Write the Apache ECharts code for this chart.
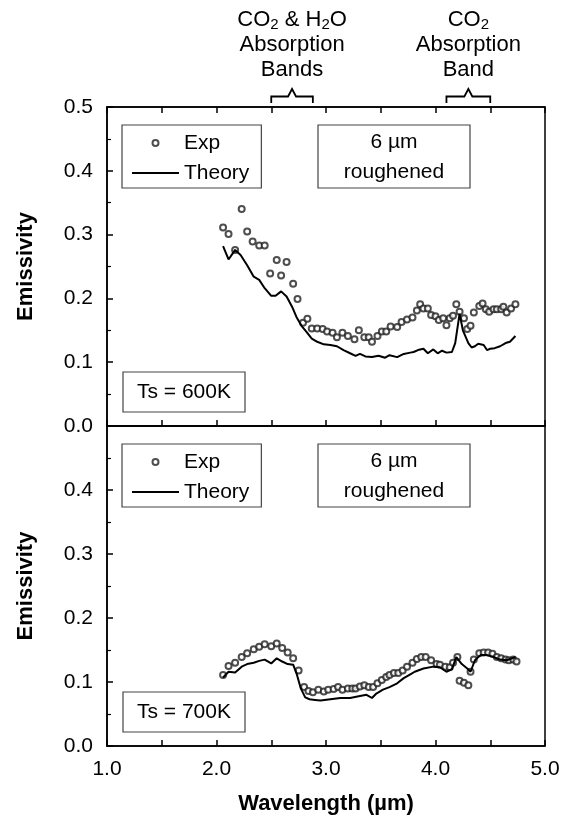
<!DOCTYPE html>
<html>
<head>
<meta charset="utf-8">
<script src="https://cdn.jsdelivr.net/npm/echarts@6/dist/echarts.min.js"></script>
<style>
  html, body { margin: 0; padding: 0; background: #fff; }
  #chart { width: 571px; height: 819px; }
</style>
</head>
<body>
<div id="chart"></div>
<script>
// wavelength (um) / emissivity
const expWl600 = [2.06, 2.11, 2.17, 2.23, 2.28, 2.33, 2.39, 2.44, 2.49, 2.55, 2.59, 2.64, 2.70, 2.74, 2.79, 2.83, 2.87, 2.92, 2.97, 3.01, 3.06, 3.10, 3.15, 3.20, 3.26, 3.30, 3.35, 3.39, 3.42, 3.47, 3.51, 3.55, 3.59, 3.65, 3.69, 3.74, 3.79, 3.83, 3.86, 3.89, 3.93, 3.96, 4.00, 4.03, 4.07, 4.10, 4.13, 4.16, 4.19, 4.22, 4.26, 4.29, 4.32, 4.35, 4.40, 4.43, 4.46, 4.49, 4.53, 4.56, 4.60, 4.62, 4.65, 4.69, 4.73]
const expEm600 = [0.311, 0.301, 0.276, 0.340, 0.305, 0.289, 0.283, 0.283, 0.239, 0.260, 0.236, 0.257, 0.223, 0.199, 0.162, 0.168, 0.153, 0.153, 0.152, 0.148, 0.146, 0.139, 0.146, 0.141, 0.136, 0.150, 0.139, 0.139, 0.132, 0.141, 0.148, 0.148, 0.156, 0.155, 0.163, 0.167, 0.170, 0.181, 0.191, 0.184, 0.184, 0.174, 0.172, 0.166, 0.169, 0.158, 0.169, 0.173, 0.191, 0.179, 0.169, 0.152, 0.157, 0.178, 0.188, 0.192, 0.183, 0.179, 0.183, 0.183, 0.183, 0.187, 0.178, 0.184, 0.191]

const thWl600 = [2.06, 2.11, 2.17, 2.22, 2.28, 2.34, 2.39, 2.44, 2.50, 2.54, 2.59, 2.64, 2.69, 2.73, 2.78, 2.82, 2.87, 2.92, 2.98, 3.04, 3.10, 3.16, 3.22, 3.27, 3.31, 3.36, 3.42, 3.48, 3.54, 3.58, 3.65, 3.71, 3.77, 3.80, 3.84, 3.89, 3.93, 3.98, 4.02, 4.06, 4.10, 4.15, 4.18, 4.22, 4.25, 4.30, 4.33, 4.36, 4.39, 4.44, 4.47, 4.50, 4.54, 4.59, 4.64, 4.68, 4.73]
const thEm600 = [0.282, 0.261, 0.276, 0.268, 0.252, 0.234, 0.229, 0.216, 0.204, 0.204, 0.211, 0.203, 0.187, 0.171, 0.156, 0.148, 0.137, 0.132, 0.128, 0.127, 0.125, 0.119, 0.114, 0.110, 0.113, 0.109, 0.108, 0.110, 0.107, 0.111, 0.108, 0.113, 0.115, 0.116, 0.119, 0.121, 0.114, 0.120, 0.114, 0.118, 0.115, 0.116, 0.130, 0.176, 0.150, 0.130, 0.123, 0.125, 0.129, 0.127, 0.119, 0.121, 0.122, 0.125, 0.130, 0.132, 0.141]

const expWl700 = [2.06, 2.11, 2.17, 2.23, 2.28, 2.34, 2.39, 2.44, 2.50, 2.55, 2.60, 2.65, 2.70, 2.75, 2.80, 2.84, 2.88, 2.93, 2.98, 3.02, 3.07, 3.11, 3.15, 3.20, 3.24, 3.27, 3.31, 3.35, 3.39, 3.43, 3.47, 3.51, 3.55, 3.58, 3.62, 3.66, 3.70, 3.74, 3.79, 3.83, 3.87, 3.91, 3.96, 4.01, 4.04, 4.09, 4.13, 4.16, 4.20, 4.22, 4.26, 4.30, 4.32, 4.35, 4.40, 4.44, 4.48, 4.52, 4.56, 4.60, 4.64, 4.67, 4.71, 4.74]
const expEm700 = [0.111, 0.125, 0.130, 0.139, 0.145, 0.151, 0.155, 0.159, 0.156, 0.160, 0.153, 0.146, 0.137, 0.118, 0.092, 0.086, 0.084, 0.088, 0.085, 0.088, 0.089, 0.092, 0.088, 0.090, 0.090, 0.090, 0.093, 0.095, 0.092, 0.092, 0.098, 0.103, 0.108, 0.111, 0.114, 0.114, 0.118, 0.124, 0.130, 0.136, 0.139, 0.139, 0.134, 0.128, 0.127, 0.124, 0.123, 0.130, 0.139, 0.102, 0.099, 0.095, 0.116, 0.135, 0.145, 0.146, 0.146, 0.144, 0.139, 0.137, 0.135, 0.134, 0.135, 0.132]

const thWl700 = [2.06, 2.11, 2.17, 2.23, 2.28, 2.34, 2.39, 2.44, 2.50, 2.55, 2.60, 2.65, 2.70, 2.73, 2.77, 2.81, 2.85, 2.90, 2.95, 3.04, 3.13, 3.22, 3.31, 3.37, 3.42, 3.46, 3.52, 3.58, 3.65, 3.71, 3.77, 3.81, 3.89, 3.98, 4.04, 4.10, 4.15, 4.19, 4.24, 4.29, 4.32, 4.36, 4.41, 4.47, 4.53, 4.59, 4.65, 4.73]
const thEm700 = [0.107, 0.116, 0.115, 0.124, 0.128, 0.130, 0.133, 0.135, 0.129, 0.137, 0.132, 0.128, 0.127, 0.114, 0.090, 0.076, 0.073, 0.072, 0.071, 0.073, 0.075, 0.075, 0.078, 0.080, 0.075, 0.082, 0.088, 0.092, 0.098, 0.106, 0.112, 0.116, 0.121, 0.124, 0.123, 0.116, 0.120, 0.139, 0.128, 0.121, 0.116, 0.134, 0.142, 0.142, 0.139, 0.135, 0.134, 0.139]

// absorption band brackets (um) and their captions
const bands = [[2.5, 2.88], [4.1, 4.5]]
const bandText = [
  '{a|CO}{s|2}{a| & H}{s|2}{a|O}\n{a|Absorption}\n{a|Bands}',
  '{a|CO}{s|2}\n{a|Absorption}\n{a|Band}'
]
const tempLabels = ['Ts = 600K', 'Ts = 700K']

const FONT = '"Liberation Sans", Arial, Helvetica, sans-serif'
const zip = (xs, ys) => xs.map((x, i) => [x, ys[i]])

const chart = echarts.init(document.getElementById('chart'))
const gridTop = [107, 426]
const gridH = [319, 320]
const left = 107, width = 438

const tickStyle = { color: '#000', width: 1.5 }

function xAxis(gridIndex, position, labels) {
  return {
    type: 'value', gridIndex, position, min: 1, max: 5, interval: 1,
    axisLine: { show: true, onZero: false, lineStyle: tickStyle },
    axisTick: { show: true, inside: true, length: 6, lineStyle: tickStyle },
    minorTick: { show: true, splitNumber: 2, length: 6, lineStyle: tickStyle },
    axisLabel: {
      show: labels, margin: 13, fontFamily: FONT, fontSize: 21, color: '#000',
      formatter: v => v.toFixed(1)
    },
    splitLine: { show: false },
    name: labels ? 'Wavelength (\u00b5m)' : '',
    nameLocation: 'middle', nameGap: 47,
    nameTextStyle: { fontFamily: FONT, fontSize: 22, fontWeight: 'bold', color: '#000' }
  }
}

function yAxis(gridIndex, showTop) {
  return {
    type: 'value', gridIndex, min: 0, max: 0.5, interval: 0.1,
    axisLine: { show: true, lineStyle: tickStyle },
    axisTick: { show: true, inside: true, length: 6, lineStyle: tickStyle },
    minorTick: { show: true, splitNumber: 2, length: 4, lineStyle: { color: '#000', width: 1.2 } },
    axisLabel: {
      margin: 14, fontFamily: FONT, fontSize: 21, color: '#000',
      formatter: v => (!showTop && v > 0.45) ? '' : v.toFixed(1)
    },
    splitLine: { show: false },
    name: 'Emissivity', nameLocation: 'middle', nameGap: 70,
    nameTextStyle: { fontFamily: FONT, fontSize: 22, fontWeight: 'bold', color: '#000' }
  }
}

function expSeries(xi, yi, data) {
  return {
    name: 'Exp', type: 'scatter', xAxisIndex: xi, yAxisIndex: yi,
    symbol: 'emptyCircle', symbolSize: 6,
    itemStyle: { color: '#222', borderWidth: 1.2 },
    data
  }
}

function theorySeries(xi, yi, data) {
  return {
    name: 'Theory', type: 'line', xAxisIndex: xi, yAxisIndex: yi,
    showSymbol: false, symbol: 'none',
    lineStyle: { color: '#000', width: 2 },
    itemStyle: { color: '#000' },
    data
  }
}

chart.setOption({
  animation: false,
  backgroundColor: '#fff',
  grid: gridTop.map((t, i) => ({
    left, top: t, width, height: gridH[i],
    show: true, borderColor: '#000', borderWidth: 1.5, backgroundColor: 'transparent'
  })),
  xAxis: [
    xAxis(0, 'bottom', false),
    xAxis(0, 'top', false),
    xAxis(1, 'bottom', true)
  ],
  yAxis: [yAxis(0, true), yAxis(1, false)],
  legend: gridTop.map(t => ({
    left: 122, top: t + 18, orient: 'vertical',
    data: [
      { name: 'Exp' },
      { name: 'Theory', icon: 'path://M0,0 L47,0 L47,2 L0,2 Z', itemStyle: { color: '#000' } }
    ],
    itemWidth: 47, itemHeight: 6, itemGap: 6,
    padding: [6, 12, 3, 10],
    borderColor: '#444', borderWidth: 1.2,
    textStyle: { fontFamily: FONT, fontSize: 21, color: '#000', lineHeight: 24 },
    selectedMode: false
  })),
  series: [
    expSeries(0, 0, zip(expWl600, expEm600)),
    theorySeries(0, 0, zip(thWl600, thEm600)),
    expSeries(2, 1, zip(expWl700, expEm700)),
    theorySeries(2, 1, zip(thWl700, thEm700))
  ]
})

// annotations: band brackets + captions, sample boxes, temperature boxes
const graphic = []
bands.forEach((b, i) => {
  const x0 = chart.convertToPixel({ xAxisIndex: 1 }, b[0])
  const x1 = chart.convertToPixel({ xAxisIndex: 1 }, b[1])
  const xm = (x0 + x1) / 2
  graphic.push({
    type: 'polyline', silent: true,
    shape: { points: [[x0, 103], [x0, 96.5], [xm - 4, 96.5], [xm, 89], [xm + 4, 96.5], [x1, 96.5], [x1, 103]] },
    style: { stroke: '#000', lineWidth: 1.8, fill: null }
  })
  graphic.push({
    type: 'text', silent: true, x: xm, y: 7,
    style: {
      text: bandText[i], align: 'center', verticalAlign: 'top',
      fontFamily: FONT, fill: '#000',
      rich: {
        a: { fontFamily: FONT, fontSize: 22, lineHeight: 25, fill: '#000' },
        s: { fontFamily: FONT, fontSize: 15, lineHeight: 15, verticalAlign: 'bottom', fill: '#000' }
      }
    }
  })
})
gridTop.forEach((t, i) => {
  const bottom = t + gridH[i]
  graphic.push({
    type: 'rect', silent: true,
    shape: { x: 318, y: t + 18, width: 152, height: 63 },
    style: { stroke: '#444', lineWidth: 1.2, fill: null }
  })
  graphic.push({
    type: 'text', silent: true, x: 394, y: t + 50,
    style: {
      text: '6 \u00b5m\nroughened', align: 'center', verticalAlign: 'middle',
      fontFamily: FONT, fontSize: 21, lineHeight: 30, fill: '#000'
    }
  })
  graphic.push({
    type: 'rect', silent: true,
    shape: { x: 123, y: bottom - 54, width: 122, height: 40 },
    style: { stroke: '#444', lineWidth: 1.2, fill: null }
  })
  graphic.push({
    type: 'text', silent: true, x: 184, y: bottom - 34,
    style: {
      text: tempLabels[i], align: 'center', verticalAlign: 'middle',
      fontFamily: FONT, fontSize: 21, fill: '#000'
    }
  })
})
chart.setOption({ graphic })
</script>
</body>
</html>
